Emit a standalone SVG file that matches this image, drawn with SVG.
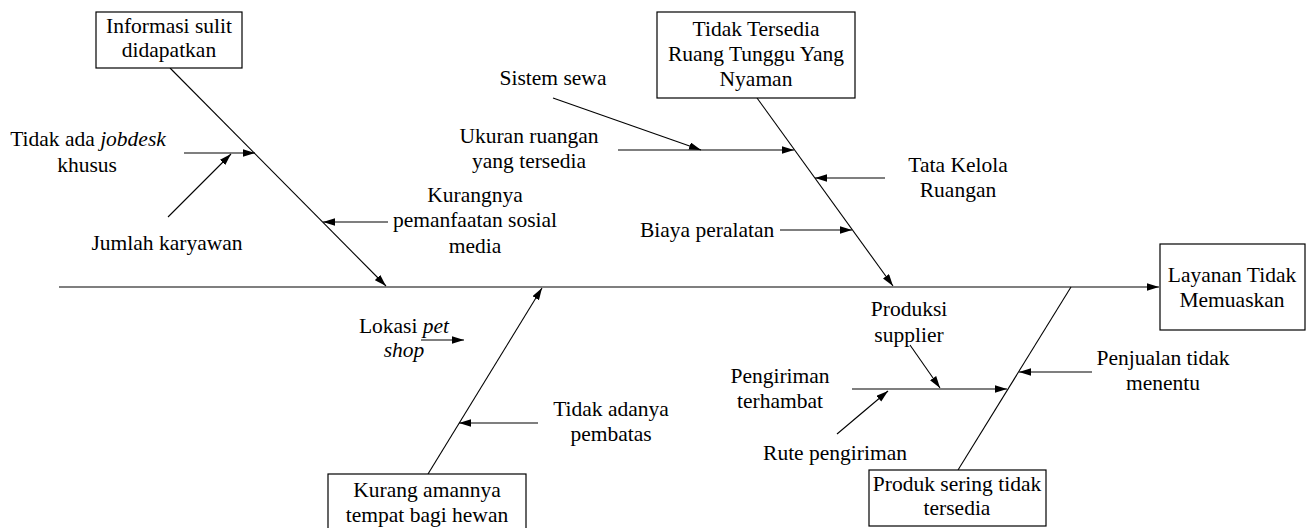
<svg xmlns="http://www.w3.org/2000/svg" width="1309" height="528" viewBox="0 0 1309 528" font-family="'Liberation Serif', 'Times New Roman', Times, serif">
<style>
text{font-family:'Liberation Serif','Times New Roman',Times,serif;font-size:21.5px;fill:#000}
.c{text-anchor:middle}
.box{fill:#fff;stroke:#000;stroke-width:1.2}
.ln{stroke:#000;stroke-width:1.1;fill:none}
.ar{stroke:#000;stroke-width:1.1;fill:none;marker-end:url(#ah)}
.i{font-style:italic}
</style>
<defs>
<marker id="ah" markerUnits="userSpaceOnUse" markerWidth="13" markerHeight="8" refX="12" refY="3.75" orient="auto">
<path d="M0,0 L12,3.75 L0,7.5 z" fill="#000"/>
</marker>
</defs>
<rect width="1309" height="528" fill="#fff"/>
<g id="connectors">
<line class="ar" x1="59" y1="287" x2="1159" y2="287"/>
<line class="ar" x1="170" y1="68" x2="386" y2="286"/>
<line class="ar" x1="184" y1="153" x2="255" y2="153"/>
<line class="ar" x1="168" y1="217" x2="231" y2="154"/>
<line class="ar" x1="388" y1="222" x2="323" y2="222"/>
<line class="ar" x1="757" y1="98" x2="893" y2="286"/>
<line class="ar" x1="553" y1="98" x2="701" y2="150"/>
<line class="ar" x1="618" y1="150" x2="794" y2="150"/>
<line class="ar" x1="885" y1="178" x2="815" y2="178"/>
<line class="ar" x1="780" y1="230" x2="852" y2="230"/>
<line class="ar" x1="428" y1="474" x2="542" y2="288"/>
<line class="ar" x1="538" y1="423" x2="459" y2="423"/>
<line class="ar" x1="421" y1="340" x2="464" y2="340"/>
<line class="ln" x1="958" y1="470" x2="1071" y2="287"/>
<line class="ar" x1="1092" y1="372" x2="1019" y2="372"/>
<line class="ar" x1="852" y1="389" x2="1007" y2="389"/>
<line class="ar" x1="910" y1="345" x2="940" y2="388"/>
<line class="ar" x1="837" y1="434" x2="888" y2="391"/>
</g>
<g id="node-informasi">
<rect class="box" x="96" y="12" width="146" height="56"/>
<text class="c" x="169" y="33">Informasi sulit</text>
<text class="c" x="169" y="57">didapatkan</text>
</g>
<g id="node-ruang-tunggu">
<rect class="box" x="657" y="12" width="198" height="86"/>
<text class="c" x="756" y="36">Tidak Tersedia</text>
<text class="c" x="756" y="61">Ruang Tunggu Yang</text>
<text class="c" x="756" y="86">Nyaman</text>
</g>
<g id="node-layanan">
<rect class="box" x="1160" y="244" width="145" height="86"/>
<text class="c" x="1232" y="282">Layanan Tidak</text>
<text class="c" x="1232" y="307">Memuaskan</text>
</g>
<g id="node-kurang-aman">
<rect class="box" x="328" y="474" width="198" height="60"/>
<text class="c" x="427" y="497">Kurang amannya</text>
<text class="c" x="427" y="522">tempat bagi hewan</text>
</g>
<g id="node-produk">
<rect class="box" x="869" y="470" width="177" height="56"/>
<text class="c" x="957" y="491">Produk sering tidak</text>
<text class="c" x="957" y="515">tersedia</text>
</g>
<g id="label-jobdesk">
<text class="c" x="88" y="146">Tidak ada <tspan class="i">jobdesk</tspan></text>
<text class="c" x="87" y="172">khusus</text>
</g>
<g id="label-jumlah">
<text class="c" x="167" y="250">Jumlah karyawan</text>
</g>
<g id="label-kurangnya">
<text class="c" x="475" y="202">Kurangnya</text>
<text class="c" x="475" y="227">pemanfaatan sosial</text>
<text class="c" x="475" y="253">media</text>
</g>
<g id="label-sistem">
<text class="c" x="553" y="85">Sistem sewa</text>
</g>
<g id="label-ukuran">
<text class="c" x="529" y="143">Ukuran ruangan</text>
<text class="c" x="529" y="168">yang tersedia</text>
</g>
<g id="label-tata">
<text class="c" x="958" y="172">Tata Kelola</text>
<text class="c" x="958" y="197">Ruangan</text>
</g>
<g id="label-biaya">
<text x="640" y="237">Biaya peralatan</text>
</g>
<g id="label-lokasi">
<text class="c" x="404" y="333">Lokasi <tspan class="i">pet</tspan></text>
<text class="c i" x="404" y="357">shop</text>
</g>
<g id="label-pembatas">
<text class="c" x="611" y="416">Tidak adanya</text>
<text class="c" x="611" y="441">pembatas</text>
</g>
<g id="label-produksi">
<text class="c" x="909" y="316">Produksi</text>
<text class="c" x="909" y="342">supplier</text>
</g>
<g id="label-pengiriman">
<text class="c" x="780" y="383">Pengiriman</text>
<text class="c" x="780" y="408">terhambat</text>
</g>
<g id="label-rute">
<text class="c" x="835" y="460">Rute pengiriman</text>
</g>
<g id="label-penjualan">
<text class="c" x="1163" y="365">Penjualan tidak</text>
<text class="c" x="1163" y="390">menentu</text>
</g>
</svg>
